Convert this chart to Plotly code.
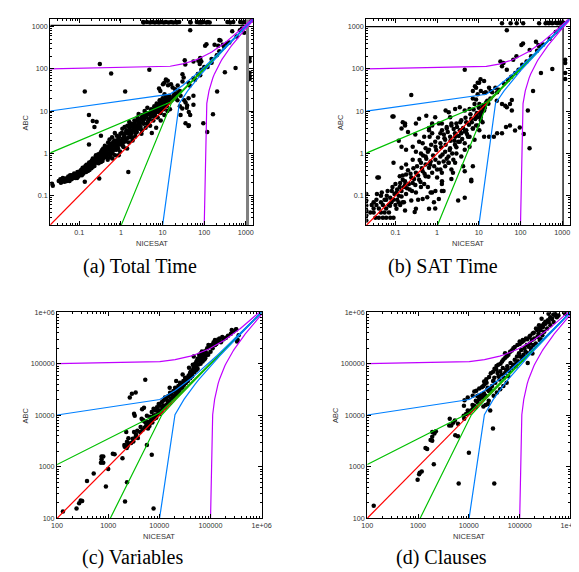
import math
import plotly.graph_objects as go

W, H = 579, 572

TIME_LIM = (0.02, 1500.0)
SIZE_LIM = (100.0, 1.0e6)
N_SAMPLES = 100  # gnuplot default sampling of the guide curves

# guide curves: y = x + c (sampled along x) and x = y + c (sampled along y)
TIME_OFFSETS = [1, 10, 100]
SIZE_OFFSETS = [1000, 10000, 100000]
OFFSET_COLORS = ["#00c000", "#0080ff", "#c000ff"]
DIAG_COLOR = "#ff0000"

TIME_TICKS = [0.1, 1, 10, 100, 1000]
TIME_TICKTEXT = ["0.1", "1", "10", "100", "1000"]
SIZE_TICKS = [100, 1000, 10000, 100000, 1000000]
SIZE_TICKTEXT = ["100", "1000", "10000", "100000", "1e+06"]

# timeout guides (x, y)
TOTAL_TIMEOUT = (1095, 1075)
SAT_TIMEOUT = (1050, 1000)

# (NICESAT, ABC) pairs
TOTAL_TIME = [
    (0.032, 0.22), (0.035, 0.24), (0.038, 0.21), (0.042, 0.23), (0.046, 0.25), (0.05, 0.22),
    (0.055, 0.26), (0.06, 0.3), (0.065, 0.24), (0.07, 0.28), (0.075, 0.33), (0.08, 0.26),
    (0.085, 0.31), (0.09, 0.36), (0.095, 0.28), (0.1, 0.34), (0.11, 0.4), (0.115, 0.3),
    (0.12, 0.45), (0.13, 0.36), (0.14, 0.5), (0.15, 0.42), (0.16, 0.38), (0.17, 0.55),
    (0.18, 0.45), (0.19, 0.62), (0.2, 0.5), (0.21, 0.75), (0.22, 0.55), (0.24, 0.68),
    (0.25, 0.9), (0.26, 0.6), (0.28, 0.8), (0.3, 0.7), (0.32, 1.0), (0.34, 0.85), (0.36, 0.65),
    (0.38, 1.1), (0.4, 0.8), (0.42, 1.3), (0.45, 0.95), (0.48, 0.7), (0.5, 1.2), (0.52, 1.5),
    (0.55, 0.9), (0.58, 1.1), (0.6, 1.4), (0.62, 0.75), (0.65, 1.8), (0.7, 1.2), (0.72, 0.9),
    (0.75, 1.5), (0.8, 2.0), (0.85, 1.3), (0.9, 2.5), (0.95, 1.1), (1.0, 1.7), (1.05, 3.0),
    (1.1, 2.2), (1.15, 1.4), (1.2, 2.6), (1.3, 1.9), (1.35, 3.5), (1.4, 1.3), (1.5, 2.4),
    (1.6, 4.0), (1.7, 2.8), (1.8, 5.0), (1.9, 2.0), (2.0, 3.5), (2.1, 6.0), (2.2, 2.5),
    (2.3, 4.5), (2.4, 3.2), (2.5, 7.0), (2.6, 5.5), (2.8, 3.8), (3.0, 6.5), (3.1, 2.9),
    (3.3, 8), (3.5, 5), (3.7, 10), (3.9, 4), (4.1, 7), (4.3, 12), (4.6, 6), (4.8, 9),
    (5.0, 4.5), (5.3, 11), (5.6, 8), (6.0, 6), (6.3, 13), (6.8, 10), (7.2, 15), (7.6, 7),
    (8, 12), (8.5, 18), (9, 9), (9.5, 14), (10, 20), (10.5, 11), (11, 16), (12, 22),
    (12.5, 13), (13, 17), (5.5, 3.0), (7, 4), (9, 6), (11, 8), (13, 10), (15, 11),
    (0.036, 0.2), (0.044, 0.21), (0.052, 0.24), (0.058, 0.22), (0.068, 0.27), (0.078, 0.29),
    (0.088, 0.26), (0.1, 0.3), (0.105, 0.38), (0.125, 0.33), (0.135, 0.42), (0.145, 0.36),
    (0.155, 0.47), (0.165, 0.43), (0.175, 0.4), (0.185, 0.52), (0.195, 0.44), (0.21, 0.48),
    (0.23, 0.62), (0.23, 0.5), (0.27, 0.72), (0.29, 0.58), (0.31, 0.85), (0.33, 0.62),
    (0.35, 0.95), (0.37, 0.75), (0.39, 0.9), (0.44, 1.15), (0.46, 0.8), (0.54, 1.25),
    (0.56, 0.8), (0.63, 1.0), (0.68, 1.5), (0.78, 1.2), (0.82, 1.6), (0.88, 0.9), (0.92, 1.9),
    (1.1, 1.5), (1.25, 2.1), (1.45, 3.0), (1.55, 1.8), (1.75, 3.4), (1.85, 2.4), (2.05, 4.2),
    (2.25, 3.0), (2.7, 4.5), (2.9, 5.2), (3.2, 3.5), (3.6, 6.5), (4.0, 9), (4.4, 5.5),
    (5.2, 7.5), (5.8, 10), (6.5, 8), (7.0, 12), (8.0, 9.5), (9.0, 13), (10.5, 15),
    (0.04, 0.26), (0.048, 0.22), (0.054, 0.28), (0.062, 0.25), (0.066, 0.3), (0.072, 0.26),
    (0.082, 0.28), (0.092, 0.32), (0.097, 0.35), (0.108, 0.32), (0.112, 0.36), (0.118, 0.41),
    (0.128, 0.39), (0.132, 0.46), (0.142, 0.44), (0.148, 0.53), (0.158, 0.41), (0.168, 0.5),
    (0.172, 0.6), (0.178, 0.48), (0.188, 0.58), (0.198, 0.66), (0.205, 0.55), (0.215, 0.65),
    (0.225, 0.72), (0.235, 0.58), (0.245, 0.8), (0.255, 0.7), (0.265, 0.85), (0.275, 0.62),
    (0.285, 0.95), (0.295, 0.78), (0.31, 0.65), (0.32, 0.9), (0.335, 1.1), (0.345, 0.75),
    (0.355, 1.2), (0.365, 0.9), (0.375, 1.3), (0.39, 1.0), (0.41, 1.5), (0.43, 1.1),
    (0.47, 1.4), (0.49, 1.8), (0.51, 1.0), (0.53, 2.1), (0.57, 1.3), (0.59, 1.7), (0.61, 2.4),
    (0.64, 1.2), (0.66, 1.6), (0.69, 2.0), (0.71, 3.0), (0.74, 1.3), (0.77, 1.8), (0.79, 2.6),
    (0.83, 1.5), (0.87, 2.2), (0.93, 1.6), (0.97, 2.9), (1.02, 2.0), (1.08, 3.8), (1.12, 1.8),
    (1.18, 2.4), (1.22, 4.2), (1.28, 3.0), (1.38, 2.2), (1.42, 4.5), (1.52, 3.3), (1.58, 5.5),
    (1.65, 2.4), (1.72, 4.6), (1.82, 3.0), (1.95, 4.0), (2.15, 5.0), (2.35, 3.8), (2.45, 6.0),
    (2.55, 4.2), (2.65, 8.5), (2.75, 5.0), (2.95, 4.2), (3.15, 7.0), (3.4, 6.0), (3.8, 7.5),
    (4.2, 5.0), (4.5, 8.5), (4.9, 6.5), (5.4, 9.5), (5.9, 7.5), (6.2, 11), (6.7, 9), (7.4, 13),
    (7.8, 10), (8.3, 15), (8.8, 11), (9.2, 17), (9.8, 12), (10.2, 14), (11.5, 18), (12, 13),
    (12.8, 20), (14, 16), (15, 19), (16, 18), (18, 22), (19, 25), (21, 26), (24, 28), (26, 30),
    (0.022, 0.19), (0.023, 0.17), (0.31, 130), (0.58, 77), (0.135, 29), (1.26, 29),
    (0.17, 8), (0.21, 5.8), (0.26, 5.6), (0.23, 4.2), (0.33, 2.6), (0.17, 1.6), (4.8, 95),
    (1.5, 0.36), (0.135, 0.21), (0.3, 0.25),
    (46, 820), (113, 380), (105, 350), (230, 480), (177, 370), (216, 350), (470, 780),
    (565, 105), (313, 83), (204, 29), (162, 8.4), (95, 5.1), (118, 3.2), (55, 14), (42, 4.4),
    (38, 12), (26, 13), (55, 150), (72, 155), (78, 130), (35, 126), (30, 74), (32, 62),
    (42, 47), (23, 40), (12, 56), (11, 47), (13.5, 41), (30, 50), (20, 33), (55, 23),
    (42, 20), (27, 23), (33, 18), (17, 19), (14, 21), (13.3, 52), (15.9, 43), (17.4, 36),
    (10.2, 43), (8.2, 34), (8.8, 30), (11.1, 25), (14.5, 23), (20.8, 21), (22.7, 18),
    (35.5, 16), (38.9, 13.6), (29.7, 11.4), (42.5, 9.5), (46, 8), (27, 8), (35.5, 5.1),
    (42.5, 4.6), (245, 470), (280, 370), (80, 180), (80, 165), (85, 150), (34, 160),
    (60, 55), (80, 70), (100, 110), (150, 140), (200, 210), (300, 330), (400, 420),
    (600, 580), (800, 900), (45, 40), (55, 60), (70, 75), (85, 95), (120, 110), (150, 170),
    (230, 260), (350, 400), (720, 820), (910, 720),
    (3.4, 1280), (3.5, 1250), (4.2, 1280), (5, 1250), (5.7, 1280), (6.5, 1250), (7.4, 1280),
    (8.2, 1250), (9.3, 1280), (10.7, 1250), (12, 1280), (14, 1250), (16, 1280), (18, 1250),
    (21, 1280), (22, 1250), (25, 1280), (46, 1280), (47, 1250), (66, 1280), (75, 1250),
    (81, 1280), (86, 1250), (95, 1280), (113, 1250), (123, 1280), (135, 1250), (360, 1280),
    (420, 1250), (500, 1280), (730, 1280), (840, 1250), (950, 1280), (1050, 1250),
    (1230, 180), (1230, 151), (1230, 81), (1230, 67), (1230, 57), (1360, 1400),
]

SAT_TIME = [
    (0.02, 0.11), (0.02, 0.077), (0.02, 0.059), (0.02, 0.045), (0.02, 0.034), (0.02, 0.026),
    (0.033, 0.03), (0.04, 0.03), (0.05, 0.03), (0.06, 0.03), (0.075, 0.03), (0.09, 0.03),
    (0.025, 0.04), (0.03, 0.04), (0.045, 0.04), (0.055, 0.04), (0.07, 0.04),
    (0.03, 0.05), (0.04, 0.05), (0.06, 0.05),
    (0.027, 0.06), (0.035, 0.06), (0.05, 0.06), (0.07, 0.06), (0.1, 0.06), (0.13, 0.06),
    (0.03, 0.07), (0.045, 0.07), (0.08, 0.07), (0.12, 0.07), (0.16, 0.07),
    (0.035, 0.08), (0.06, 0.08), (0.09, 0.08), (0.11, 0.08),
    (0.036, 0.11), (0.047, 0.12), (0.062, 0.10), (0.082, 0.13), (0.106, 0.12), (0.14, 0.096),
    (0.18, 0.11), (0.1, 0.19), (0.127, 0.16), (0.17, 0.18), (0.22, 0.14), (0.26, 0.2),
    (0.31, 0.12), (0.41, 0.16), (0.49, 0.19), (0.7, 0.12), (0.91, 0.13), (1.3, 0.19),
    (0.29, 0.041), (0.17, 0.045), (0.106, 0.049), (0.074, 0.058), (0.64, 0.049), (0.84, 0.07),
    (1.1, 0.084), (0.127, 0.29), (0.15, 0.24), (0.18, 0.32), (0.24, 0.27), (0.31, 0.35),
    (0.37, 0.24), (0.45, 0.38), (0.53, 0.29), (0.64, 0.46), (0.76, 0.35), (1.0, 0.42),
    (1.3, 0.35), (1.56, 0.5), (1.87, 0.6), (2.2, 0.42), (0.41, 0.6), (0.53, 0.55),
    (0.7, 0.65), (0.91, 0.71), (1.2, 0.85), (1.43, 0.65), (1.87, 0.85), (2.45, 0.71),
    (2.9, 1.0), (3.8, 0.85), (4.6, 1.22), (1.56, 1.1), (2.05, 1.33), (2.68, 1.6), (3.5, 1.9),
    (4.6, 1.74), (6.0, 1.45), (7.9, 2.1), (0.64, 1.22), (0.91, 1.45), (1.2, 1.74),
    (1.56, 2.1), (2.05, 2.5), (2.68, 3.0), (3.5, 3.55), (4.6, 3.3), (5.5, 2.5), (7.2, 3.9),
    (8.6, 4.6), (10.3, 3.55), (12.3, 5.5), (1.31, 3.55), (1.7, 4.2), (2.2, 4.6), (2.9, 5.1),
    (3.8, 6.1), (5.0, 5.5), (6.6, 6.6), (8.6, 8.0), (11.2, 7.3), (0.76, 3.0), (1.1, 5.1),
    (0.04, 0.27), (0.09, 0.6), (0.14, 0.46), (0.18, 0.55), (0.26, 0.71), (0.17, 5.1),
    (0.09, 7.5), (0.31, 1.1), (0.41, 1.0), (0.53, 0.85), (1.31, 0.22), (1.43, 0.13),
    (6.6, 0.22), (3.2, 0.077), (0.31, 0.049), (0.15, 0.07), (0.24, 0.077), (0.45, 0.084),
    (0.58, 0.092), (0.76, 5.1), (0.64, 4.0), (0.49, 2.5), (0.37, 1.9), (0.26, 1.45),
    (0.18, 1.22),
    (0.045, 0.1), (0.055, 0.08), (0.065, 0.13), (0.075, 0.09), (0.085, 0.16), (0.095, 0.11),
    (0.11, 0.14), (0.12, 0.1), (0.13, 0.2), (0.14, 0.13), (0.15, 0.3), (0.16, 0.16),
    (0.17, 0.22), (0.19, 0.15), (0.2, 0.4), (0.21, 0.19), (0.23, 0.33), (0.25, 0.13),
    (0.27, 0.45), (0.28, 0.25), (0.3, 0.18), (0.33, 0.5), (0.35, 0.3), (0.38, 0.7),
    (0.4, 0.21), (0.43, 0.45), (0.46, 0.9), (0.5, 0.33), (0.55, 0.75), (0.6, 1.1),
    (0.62, 0.28), (0.68, 0.55), (0.72, 1.6), (0.8, 0.9), (0.85, 0.5), (0.95, 1.2),
    (1.05, 2.4), (1.1, 0.6), (1.25, 1.4), (1.35, 0.95), (1.45, 2.8), (1.6, 1.6), (1.7, 0.75),
    (1.8, 3.2), (2.0, 1.2), (2.1, 2.0), (2.3, 1.0), (2.5, 3.8), (2.6, 2.0), (2.9, 1.4),
    (3.0, 4.2), (3.3, 2.6), (3.6, 5.5), (4.0, 2.2), (4.2, 4.0), (4.8, 7.0), (5.2, 2.9),
    (5.8, 4.8), (6.3, 8.5), (6.8, 5.5), (7.5, 11), (8.2, 6.5), (9.0, 9.0), (10, 12),
    (11, 8.5), (12, 10), (13, 14), (14, 12), (15, 16), (17, 15), (0.55, 7.8), (0.3, 2.8),
    (0.12, 2.0), (0.6, 0.16), (1.0, 0.27), (2.2, 0.25), (0.9, 0.05), (0.35, 0.08),
    (2.7, 11.3), (3.5, 12.4), (4.6, 10.4), (6, 11.3), (7.9, 14.8), (8.6, 19), (7.2, 20),
    (9.4, 25), (11.2, 30), (8.1, 39), (9.4, 47), (7.2, 30), (13.4, 27), (1.6, 10.4),
    (1.9, 9.5), (2.05, 7.2), (2.2, 5.1), (1.3, 5.1), (1.7, 3.9), (0.9, 7.2), (0.76, 4.6),
    (0.64, 3.55), (0.37, 6.6), (0.31, 5.1), (0.14, 3.9), (0.17, 4.6), (0.085, 7.5),
    (0.15, 5.5), (0.2, 3.2), (0.14, 1.45), (0.24, 24), (0.037, 0.27), (0.45, 1.74),
    (0.53, 1.33), (0.66, 2.5), (0.9, 1.9), (1.2, 3.0), (1.5, 2.3), (2.7, 2.5), (3.2, 1.9),
    (3.8, 3.0), (5, 3.55), (6, 2.5), (7.2, 3.9), (9.4, 4.6), (11.2, 6.1), (9.4, 7.2),
    (11.2, 9.5), (13.4, 10.4), (12.3, 12.4), (10.3, 14.8), (16, 17.7), (19, 20),
    (2.7, 0.6), (4.2, 0.5), (2.4, 0.35), (1.3, 0.13), (0.76, 0.12), (1.9, 0.6), (1.2, 0.42),
    (4.6, 0.09), (6.6, 0.24), (4.6, 0.38), (7.2, 0.5),
    (47, 820), (105, 370), (115, 400), (235, 440), (270, 370), (280, 340), (166, 280),
    (80, 200), (67, 165), (33, 150), (36, 115), (39, 138), (47, 96), (4.6, 96), (580, 100),
    (11, 57), (10.2, 47), (13.4, 52), (8.6, 36), (17.6, 36), (19.2, 30), (14.7, 28),
    (21, 28), (25, 36), (27.5, 28), (47, 12.4), (62, 10.4), (27.5, 3.0), (36, 3.0),
    (56, 4.6), (74, 3.5), (13.4, 2.5), (17.6, 2.5), (23, 2.5), (45, 4.2), (96, 4.1),
    (120, 2.9), (150, 10.4), (165, 1.33), (200, 30), (310, 80),
    (1180, 165), (1180, 138), (1180, 80), (1180, 58),
    (36, 14.8), (43, 13.5), (56, 14.8), (62, 18.3), (27, 17.7),
    (30, 32), (40, 45), (50, 55), (60, 65), (75, 80), (90, 95), (110, 125), (140, 150),
    (180, 200), (250, 270), (350, 380), (500, 520), (700, 750), (900, 950),
    (36, 1200), (58, 1200), (81, 1200), (116, 1200), (280, 1200), (400, 1200), (440, 1240),
    (480, 1200), (530, 1240), (580, 1200), (690, 1240), (760, 1200), (820, 1240),
    (900, 1240), (980, 1240), (1070, 1240),
]

VARIABLES = [
    (130, 135), (240, 155), (270, 195), (290, 220), (310, 215), (520, 735), (385, 525),
    (900, 415), (1000, 900), (720, 1200), (800, 1580), (1230, 1780), (800, 1200),
    (2130, 210), (2330, 500), (2250, 4730), (2100, 2450), (2300, 2300), (2400, 2520),
    (2500, 2830), (2800, 2900), (3100, 3100), (3440, 3800), (3300, 9800), (3200, 10700),
    (3440, 27500), (2640, 22000), (2900, 26000), (5300, 49000), (4600, 13000), (5000, 14000),
    (5700, 2630), (7100, 1700), (7700, 155), (4800, 8000),
    (740, 1580), (740, 1400), (1330, 1740), (1900, 1460), (2070, 2630), (2330, 3050),
    (2480, 3550), (3200, 4730), (3700, 5000), (4300, 5900), (4900, 7900), (4500, 8500),
    (5300, 7300), (5700, 9800), (6200, 6800), (6600, 9300), (7100, 11500), (7700, 9800),
    (7700, 13300), (8300, 12300), (9000, 14200), (9700, 16500), (10000, 10500),
    (10300, 15300), (11100, 17900), (12000, 19300), (12900, 22000), (13900, 20500),
    (15000, 23600), (16200, 27400), (17400, 25500), (18800, 29500), (20300, 34300),
    (21800, 31800), (23500, 37000), (25300, 42800), (27300, 39800), (29500, 46000),
    (31800, 53200), (34300, 49500), (37000, 57400), (39800, 66200), (43000, 61500),
    (46300, 76700), (50000, 89000), (53900, 82700), (58200, 96000), (62700, 111000),
    (67600, 119000), (73000, 138000), (78700, 128000), (60000, 128000), (67600, 138000),
    (84900, 160000), (141000, 296000), (123000, 230000), (317000, 460000), (340000, 290000),
    (318000, 467000), (122000, 288000), (150000, 310000), (91000, 230000), (68000, 172000),
    (47000, 138000), (38000, 83000), (28500, 62000), (21300, 46000), (15900, 34300),
    (330000, 270000), (355000, 355000),
    (5500, 6000), (6000, 5500), (6500, 7000), (8000, 8500), (8500, 9500), (9500, 11000),
    (11000, 12000), (12500, 14000), (14000, 16000), (16000, 18500), (18000, 22000),
    (20000, 24000), (22000, 26000), (24000, 29000), (26000, 33000), (28000, 35000),
    (30000, 38000), (33000, 42000), (36000, 46000), (40000, 52000), (44000, 58000),
    (48000, 68000), (52000, 75000), (56000, 80000), (64000, 100000), (70000, 110000),
    (76000, 120000), (82000, 145000), (90000, 150000), (100000, 170000), (110000, 200000),
    (130000, 240000), (160000, 260000), (180000, 300000), (200000, 320000),
    (250000, 380000), (280000, 420000), (60000, 150000), (65000, 160000), (55000, 115000),
    (70000, 165000), (45000, 95000),
    (3000, 3500), (3500, 4200), (3800, 3600), (4200, 4700), (4700, 5200), (5200, 5800),
    (5600, 6500), (6000, 7500), (6400, 6200), (6900, 8000), (7300, 7200), (7800, 8800),
    (8200, 10000), (8700, 8900), (9200, 10200), (9800, 12500), (10500, 11500),
    (11500, 13500), (12200, 15500), (13000, 14500), (14500, 18500), (15500, 17500),
    (17000, 21000), (19000, 23000), (21000, 27000), (23000, 25500), (25000, 32000),
    (27000, 34000), (29000, 40000), (32000, 45000), (35000, 52000), (38000, 60000),
    (41000, 70000), (44000, 75000), (47000, 85000), (50000, 100000), (53000, 110000),
    (56000, 125000), (62000, 135000), (66000, 145000), (72000, 155000), (78000, 175000),
    (86000, 200000), (95000, 215000), (105000, 230000), (115000, 260000), (140000, 270000),
    (170000, 330000), (220000, 350000), (260000, 450000),
]

CLAUSES = [
    (134, 174), (980, 560), (1050, 710), (1080, 760), (1180, 810), (2040, 1120),
    (1400, 2300), (1510, 2200), (1760, 3300), (1900, 3800), (1900, 3200), (1900, 4700),
    (2100, 4400), (2240, 4900), (4100, 6300), (4500, 6300), (4200, 8500), (5300, 7900),
    (4900, 7100), (5400, 4100), (6100, 3900), (6100, 6800), (10000, 1870), (6300, 473),
    (31600, 473), (29800, 5500), (8100, 8500), (7900, 9800), (8800, 10600), (9500, 12300),
    (11800, 15800), (13700, 19000), (12800, 29000), (14700, 23700), (17000, 22000),
    (19800, 25000), (23000, 31500), (24600, 19000), (23600, 16500), (21300, 15800),
    (19300, 14700), (26300, 12300), (51500, 160000), (100000, 270000), (115000, 290000),
    (133000, 310000), (155000, 330000), (370000, 930000), (144000, 103000), (178000, 158000),
    (500000, 930000), (580000, 863000), (780000, 930000), (270000, 746000), (240000, 556000),
    (210000, 480000), (180000, 385000), (300000, 598000), (433000, 746000),
    (10200, 11100), (11000, 12300), (11900, 13200), (12700, 15300), (13700, 14200),
    (14800, 17700), (15900, 20500), (15200, 23800), (17100, 24500), (18400, 22100),
    (19800, 26700), (21300, 23800), (19200, 36900), (20400, 39700), (22300, 42700),
    (23600, 34300), (24700, 29600), (26600, 31800), (28600, 36900), (29900, 45900),
    (31700, 53200), (33100, 42700), (34600, 76800), (36700, 66300), (38400, 57300),
    (40100, 49500), (41300, 71300), (44500, 61600), (46500, 82600), (49200, 53200),
    (51500, 66300), (53800, 76800), (57100, 88900), (59600, 57300), (62300, 71300),
    (66100, 103000), (69000, 82600), (74300, 95700), (80000, 119000), (83600, 88900),
    (88700, 138000), (92700, 111000), (96900, 160000), (103000, 138000), (107000, 185000),
    (112000, 119000), (119000, 149000), (124000, 199000), (130000, 172000), (138000, 231000),
    (144000, 160000), (150000, 214000), (160000, 248000), (167000, 185000), (174000, 288000),
    (185000, 231000), (193000, 309000), (208000, 248000), (224000, 333000), (234000, 385000),
    (248000, 288000), (259000, 446000), (279000, 358000), (287000, 516000), (304000, 415000),
    (323000, 598000), (347000, 480000), (374000, 644000), (403000, 556000), (433000, 746000),
    (466000, 644000), (501000, 863000), (540000, 802000), (41300, 31800), (47800, 36900),
    (55400, 42700), (35600, 27500), (30800, 23800), (8200, 19600), (9500, 22100),
    (11900, 23800), (8000, 15300),
    (14000, 30000), (16000, 33000), (18000, 35000), (20000, 45000), (22000, 50000),
    (25000, 55000), (27000, 65000), (30000, 70000), (32000, 80000), (35000, 90000),
    (38000, 95000), (42000, 100000), (45000, 110000), (48000, 120000), (52000, 130000),
    (56000, 140000), (60000, 150000), (65000, 170000), (70000, 180000), (75000, 200000),
    (80000, 210000), (90000, 230000), (100000, 240000), (110000, 260000), (120000, 280000),
    (140000, 300000), (160000, 350000), (190000, 400000), (220000, 450000), (250000, 500000),
    (280000, 550000), (320000, 650000), (360000, 700000), (400000, 800000), (460000, 900000),
    (60000, 75000), (85000, 100000), (120000, 140000), (170000, 200000), (260000, 300000),
]

PANELS = [
    dict(points=TOTAL_TIME, lim=TIME_LIM, offsets=TIME_OFFSETS,
         ticks=TIME_TICKS, ticktext=TIME_TICKTEXT, box=(37.3, 7.3, 246.0, 216.3),
         caption="(a) Total Time", cap=(130, 259), ylab_x=11.7, timeout=TOTAL_TIMEOUT,
         timeout_style=("#808080", 3.0)),
    dict(points=SAT_TIME, lim=TIME_LIM, offsets=TIME_OFFSETS,
         ticks=TIME_TICKS, ticktext=TIME_TICKTEXT, box=(362.3, 7.3, 571.3, 216.7),
         caption="(b) SAT Time", cap=(441, 259), ylab_x=335, timeout=SAT_TIMEOUT,
         timeout_style=("#000000", 1.3)),
    dict(points=VARIABLES, lim=SIZE_LIM, offsets=SIZE_OFFSETS,
         ticks=SIZE_TICKS, ticktext=SIZE_TICKTEXT, box=(44.3, 305.0, 254.7, 514.3),
         caption="(c) Variables", cap=(122, 554), ylab_x=11.7, timeout=None, timeout_style=None),
    dict(points=CLAUSES, lim=SIZE_LIM, offsets=SIZE_OFFSETS,
         ticks=SIZE_TICKS, ticktext=SIZE_TICKTEXT, box=(363.3, 305.0, 572.3, 514.3),
         caption="(d) Clauses", cap=(440, 554), ylab_x=330, timeout=None, timeout_style=None),
]

TICK_FONT = dict(family="Liberation Sans, Arial, sans-serif", size=7.2, color="#333333")
CAPTION_FONT = dict(family="Liberation Serif, Times New Roman, serif", size=20, color="#000000")


def samples(lo, hi, n=N_SAMPLES):
    step = (hi - lo) / (n - 1)
    return [lo + k * step for k in range(n)]


def minor_ticks(lo, hi):
    vals = []
    for e in range(math.floor(math.log10(lo)), math.ceil(math.log10(hi)) + 1):
        for m in range(2, 10):
            v = m * 10 ** e
            if lo <= v <= hi:
                vals.append(v)
    return vals


fig = go.Figure()
annotations = []

for i, p in enumerate(PANELS, start=1):
    xa = "x" if i == 1 else f"x{i}"
    ya = "y" if i == 1 else f"y{i}"
    lo, hi = p["lim"]
    left, top, right, bottom = p["box"]

    xs = [pt[0] for pt in p["points"]]
    ys = [pt[1] for pt in p["points"]]
    fig.add_trace(go.Scatter(x=xs, y=ys, mode="markers", xaxis=xa, yaxis=ya,
                             marker=dict(color="black", size=4.5, line=dict(width=0))))

    if p["timeout"]:
        tx, ty = p["timeout"]
        col, wid = p["timeout_style"]
        fig.add_trace(go.Scatter(x=[lo, tx], y=[ty, ty], mode="lines", xaxis=xa, yaxis=ya,
                                 line=dict(color="black", width=1.3)))
        fig.add_trace(go.Scatter(x=[tx, tx], y=[lo, hi], mode="lines", xaxis=xa, yaxis=ya,
                                 line=dict(color=col, width=wid)))

    grid = samples(lo, hi)
    fig.add_trace(go.Scatter(x=grid, y=grid, mode="lines", xaxis=xa, yaxis=ya,
                             line=dict(color=DIAG_COLOR, width=1.2)))
    for c, col in zip(p["offsets"], OFFSET_COLORS):
        fig.add_trace(go.Scatter(x=grid, y=[g + c for g in grid], mode="lines",
                                 xaxis=xa, yaxis=ya, line=dict(color=col, width=1.2)))
        fig.add_trace(go.Scatter(x=[g + c for g in grid], y=grid, mode="lines",
                                 xaxis=xa, yaxis=ya, line=dict(color=col, width=1.2)))

    axis_common = dict(
        type="log", range=[math.log10(lo), math.log10(hi)],
        showline=True, linecolor="black", linewidth=1, mirror="allticks",
        ticks="inside", ticklen=4, tickcolor="black", tickwidth=0.8,
        tickvals=p["ticks"], ticktext=p["ticktext"], tickfont=TICK_FONT,
        showgrid=False, zeroline=False,
        minor=dict(tickvals=minor_ticks(lo, hi), ticks="inside", ticklen=2,
                   tickcolor="black", tickwidth=0.6, showgrid=False),
    )
    fig.update_layout({
        ("xaxis" if i == 1 else f"xaxis{i}"): dict(
            axis_common, domain=[left / W, right / W], anchor=ya),
        ("yaxis" if i == 1 else f"yaxis{i}"): dict(
            axis_common, domain=[1 - bottom / H, 1 - top / H], anchor=xa),
    })

    annotations.append(dict(text="NICESAT", x=(left + right) / 2 / W, y=1 - (bottom + 19) / H,
                            xref="paper", yref="paper", showarrow=False,
                            font=dict(TICK_FONT, size=7.5), xanchor="center", yanchor="middle"))
    annotations.append(dict(text="ABC", x=p["ylab_x"] / W, y=1 - (top + bottom) / 2 / H,
                            xref="paper", yref="paper", showarrow=False, textangle=-90,
                            font=dict(TICK_FONT, size=7.5), xanchor="center", yanchor="middle"))
    annotations.append(dict(text=p["caption"], x=p["cap"][0] / W, y=1 - p["cap"][1] / H,
                            xref="paper", yref="paper", showarrow=False, font=CAPTION_FONT,
                            xanchor="center", yanchor="middle"))

fig.update_layout(
    width=W, height=H,
    margin=dict(l=0, r=0, t=0, b=0),
    paper_bgcolor="white", plot_bgcolor="white",
    showlegend=False,
    annotations=annotations,
)

fig.write_html("out.html")
